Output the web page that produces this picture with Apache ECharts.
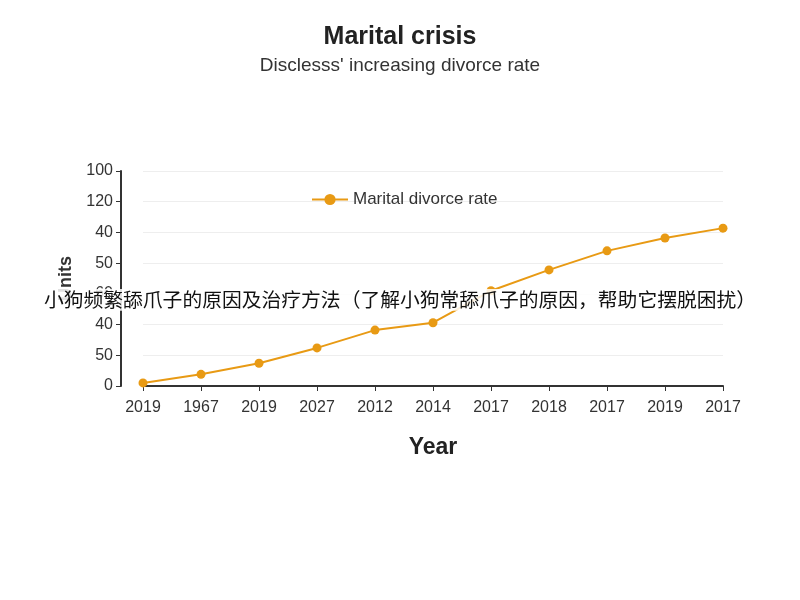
<!DOCTYPE html><html><head><meta charset="utf-8"><script src="https://cdn.jsdelivr.net/npm/echarts@6/dist/echarts.min.js"></script></head><body style="margin:0"><div id="c" style="width:800px;height:600px"></div><script>
const categories=['2019','1967','2019','2027','2012','2014','2017','2018','2017','2019','2017'];
const values=[5,19,37,62,91,103,155,189,220,241,257];
const yTickLabels=['0','50','40','60','50','40','120','100'];
const overlay='小狗频繁舔爪子的原因及治疗方法（了解小狗常舔爪子的原因，帮助它摆脱困扰）';
const ch=echarts.init(document.getElementById('c'));
ch.setOption({
 backgroundColor:'#fff',
 title:{text:'Marital crisis',subtext:"Disclesss' increasing divorce rate",left:'center',top:20,itemGap:6,
  textStyle:{fontSize:25,fontWeight:'bold',color:'#222',fontFamily:'Liberation Sans'},
  subtextStyle:{fontSize:19,color:'#333',fontFamily:'Liberation Sans'}},
 legend:{data:['Marital divorce rate'],top:186,left:306,itemWidth:36,textStyle:{fontSize:17,color:'#333'}},
 grid:{left:143,right:77,top:171,bottom:214},
 xAxis:{type:'category',data:categories,boundaryGap:false,name:'Year',nameLocation:'middle',nameGap:50,
  nameTextStyle:{fontSize:23,fontWeight:'bold',color:'#222'},
  axisLine:{lineStyle:{color:'#333',width:2}},axisTick:{alignWithLabel:true,lineStyle:{color:'#333'}},
  axisLabel:{fontSize:16,color:'#333',margin:14}},
 yAxis:{type:'value',min:0,max:350,interval:50,offset:22,name:'Units',nameLocation:'middle',nameGap:30,
  nameTextStyle:{fontSize:18,fontWeight:'bold',color:'#333'},
  axisLine:{show:true,lineStyle:{color:'#333',width:2}},axisTick:{show:true,lineStyle:{color:'#333'}},
  splitLine:{lineStyle:{color:'#eee'}},
  axisLabel:{fontSize:16,color:'#333',formatter:(v)=>yTickLabels[Math.round(v/50)]}},
 series:[{name:'Marital divorce rate',type:'line',data:values,color:'#e89a14',symbol:'circle',symbolSize:9,lineStyle:{width:2}}],
 graphic:[{type:'text',left:'center',top:289,z:100,style:{text:overlay,fontSize:19.8,fill:'#111',backgroundColor:'rgba(255,255,255,0.85)',padding:[1,2],fontFamily:'Noto Sans CJK SC'}}]
});
</script></body></html>
